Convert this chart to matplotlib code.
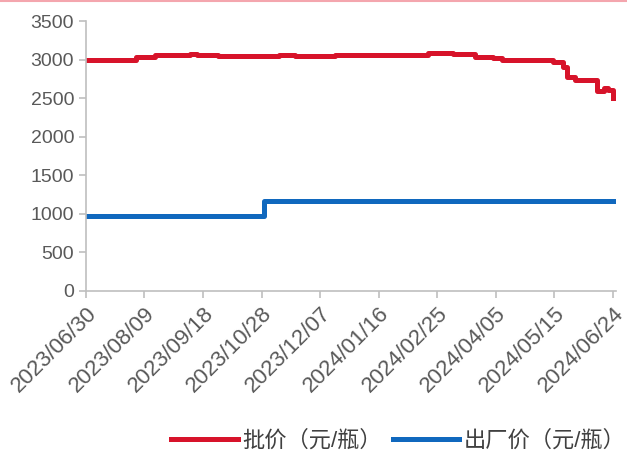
import matplotlib.pyplot as plt
import matplotlib.dates as mdates
import pandas as pd

plt.rcParams['font.family'] = ['Liberation Sans', 'Noto Sans CJK SC', 'DejaVu Sans']

# 批价 change points (date, 元/瓶)
pi_dates = ['2023-06-30', '2023-08-03', '2023-08-16', '2023-09-09', '2023-09-14',
            '2023-09-28', '2023-11-09', '2023-11-20', '2023-12-17', '2024-02-19',
            '2024-03-07', '2024-03-22', '2024-04-03', '2024-04-09', '2024-05-14',
            '2024-05-21', '2024-05-24', '2024-05-29', '2024-06-13', '2024-06-14',
            '2024-06-18', '2024-06-21', '2024-06-24']
pi_vals = [3000, 3035, 3065, 3075, 3065,
           3045, 3065, 3045, 3060, 3090,
           3070, 3040, 3020, 3000, 2970,
           2910, 2770, 2740, 2590, 2590,
           2630, 2610, 2500]

# 出厂价 change points
cc_dates = ['2023-06-30', '2023-10-30', '2024-06-24']
cc_vals = [969, 1169, 1169]

tick_dates = pd.date_range('2023-06-30', '2024-06-24', freq='40D')

fig = plt.figure(figsize=(6.27, 4.58), dpi=100)
ax = fig.add_axes([0.137, 0.365, 0.845, 0.589])

ax.plot(pd.to_datetime(pi_dates), pi_vals, drawstyle='steps-post',
        color='#d7132a', lw=3.6, label='批价（元/瓶）')
ax.plot(pd.to_datetime(cc_dates), cc_vals, drawstyle='steps-post',
        color='#1068be', lw=3.6, label='出厂价（元/瓶）')

ax.set_ylim(0, 3500)
ax.set_yticks(range(0, 3501, 500))
ax.set_xlim(tick_dates[0], tick_dates[-1] + pd.Timedelta(days=2))
ax.set_xticks(tick_dates)
ax.xaxis.set_major_formatter(mdates.DateFormatter('%Y/%m/%d'))

for s in ['top', 'right']:
    ax.spines[s].set_visible(False)
for s in ['left', 'bottom']:
    ax.spines[s].set_color('#bfbfbf')
    ax.spines[s].set_linewidth(1.2)
ax.tick_params(axis='both', colors='#bfbfbf', labelcolor='#595959', labelsize=14,
               width=1.2, length=5)
plt.setp(ax.get_xticklabels(), rotation=45, ha='right', rotation_mode='anchor',
         fontsize=16)

fig.legend(loc='lower right', bbox_to_anchor=(1.03, -0.03), ncol=2, frameon=False,
           fontsize=16, handlelength=3.0, handletextpad=0.2, columnspacing=0.5,
           labelcolor='#404040')

fig.add_artist(plt.Line2D([0, 1], [0.998, 0.998], color='#f4a6ae', lw=1.5,
                          transform=fig.transFigure))

fig.savefig('out.png', dpi=100)
